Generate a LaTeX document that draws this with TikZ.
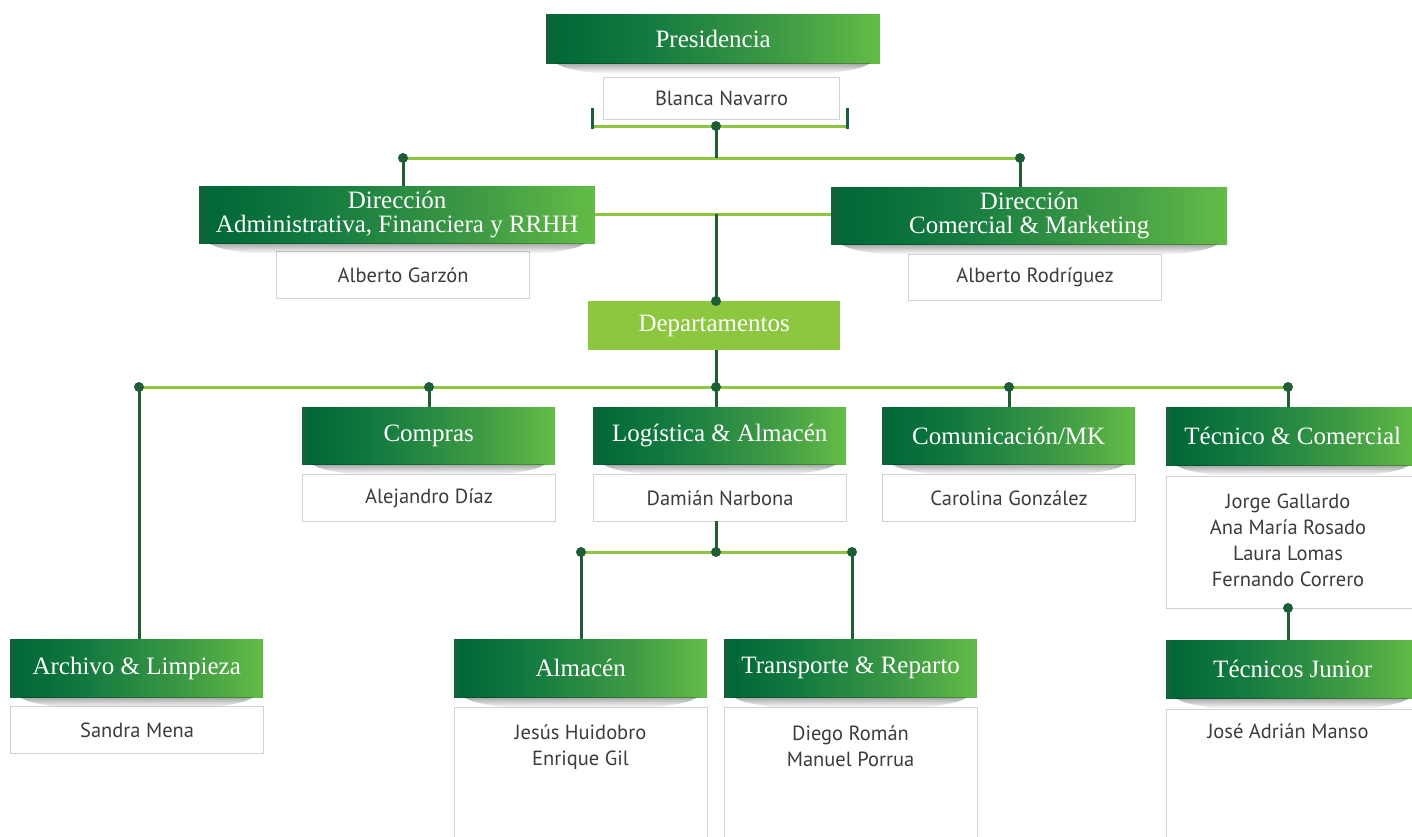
\documentclass[tikz,border=0pt]{standalone}
\usepackage{fontspec}
\setmainfont{Liberation Serif}
\newfontfamily\namefont{PT Sans}
\usetikzlibrary{fadings,calc}
\definecolor{gA}{HTML}{17613A}
\definecolor{gB}{HTML}{006837}
\definecolor{gC}{HTML}{137A40}
\definecolor{gD}{HTML}{3E9A44}
\definecolor{gE}{HTML}{64BC46}
\definecolor{ltc}{HTML}{8DC63F}
\definecolor{dkc}{HTML}{1D5E36}
\definecolor{nmc}{HTML}{3C3C3C}
\definecolor{bdc}{HTML}{D2D2D2}
\pgfdeclarehorizontalshading{gbar}{100bp}{color(0bp)=(gA); color(25bp)=(gA); color(26.5bp)=(gB); color(40bp)=(gC); color(60bp)=(gD); color(75bp)=(gE); color(100bp)=(gE)}
\tikzfading[name=shfade, top color=transparent!10, bottom color=transparent!100]
\newcommand\hshadow[1]{%
  \fill[black, opacity=.38, path fading=shfade]
    ($(#1.south west)+(10,0)$) -- ($(#1.south east)+(-10,0)$)
    .. controls ($(#1.south east)+(-20,5)$) .. ($(#1.south east)+(-50,10)$)
    -- ($(#1.south west)+(50,10)$)
    .. controls ($(#1.south west)+(20,5)$) .. cycle;}
\tikzset{
  hbase/.style={minimum width=253pt, minimum height=58pt, inner sep=0pt,
    text=white, font=\fontsize{25}{23.5}\selectfont, align=center, anchor=north west},
  hdr/.style={hbase, shade, shading=gbar},
  nbox/.style={draw=bdc, line width=1.2pt, fill=white, minimum width=253pt, minimum height=47pt,
    inner sep=0pt, anchor=north west, text=nmc, font=\namefont\fontsize{20.5}{26}\selectfont, align=center},
  ntext/.style={inner sep=0pt, text=nmc, font=\namefont\fontsize{20.5}{26}\selectfont, align=center},
  ltline/.style={draw=ltc, line width=3pt},
  dkline/.style={draw=dkc, line width=3pt},
  dot/.style={circle, fill=dkc, inner sep=0pt, minimum size=10pt}
}
\begin{document}
\begin{tikzpicture}[x=1pt, y=-1pt]
\path[use as bounding box] (0,0) rectangle (1412,836);
\clip (0,0) rectangle (1412,836);
\fill[white] (0,0) rectangle (1412,836);

% boxes
\node[hdr, minimum width=334pt, minimum height=49pt] (pres) at (546,14) {Presidencia};
\node[nbox, minimum width=236pt, minimum height=42pt] (blanca) at (603,77) {Blanca Navarro};

\node[hdr, minimum width=396pt, minimum height=57pt] (dirA) at (199,186) {Dirección\\Administrativa, Financiera y RRHH};
\node[nbox] (garzon) at (276,251) {Alberto Garzón};
\node[hdr, minimum width=396pt, minimum height=57pt] (dirC) at (831,187) {Dirección\\Comercial \& Marketing};
\node[nbox, minimum height=46pt] (rodri) at (908,254) {Alberto Rodríguez};

\node[hbase, fill=ltc, minimum width=252pt, minimum height=49pt] (dept) at (588,301) {Departamentos};

\node[hdr, minimum height=57pt] (compras) at (302,407) {Compras};
\node[nbox] (diaz) at (302,474) {Alejandro Díaz};
\node[hdr, minimum height=57pt] (logi) at (593,407) {Logística \& Almacén};
\node[nbox] (damian) at (593,474) {Damián Narbona};
\node[hdr, minimum height=57pt] (comu) at (882,407) {Comunicación/MK};
\node[nbox] (carolina) at (882,474) {Carolina González};
\node[hdr] (tec) at (1166,407) {Técnico \& Comercial};
\node[nbox, minimum height=132pt] (tecN) at (1166,476) {};
\node[ntext] (tecT) at (1288,540) {Jorge Gallardo\\Ana María Rosado\\Laura Lomas\\Fernando Correro};
\node[hdr] (tecJ) at (1166,640) {Técnicos Junior};
\node[nbox, minimum height=160pt] (joseB) at (1166,709) {};
\node[ntext] (jose) at (1288,731) {José Adrián Manso};

\node[hdr] (arch) at (10,639) {Archivo \& Limpieza};
\node[nbox] (sandra) at (10,706) {Sandra Mena};
\node[hdr] (alm) at (454,639) {Almacén};
\node[nbox, minimum height=160pt] (almB) at (454,707) {};
\node[ntext] (almN) at (580.5,747.5) {Jesús Huidobro\\Enrique Gil};
\node[hdr] (trans) at (724,639) {Transporte \& Reparto};
\node[nbox, minimum height=160pt] (transB) at (724,707) {};
\node[ntext] (transN) at (850.5,746) {Diego Román\\Manuel Porrua};

% shadows
\foreach \n in {pres,dirA,dirC,compras,logi,comu,tec,tecJ,arch,alm,trans} {\hshadow{\n}}

% connector coordinates
\coordinate (bL) at (592,126);
\coordinate (bR) at (847,126);
\coordinate (bLt) at (592,108);
\coordinate (bRt) at (847,108);
\coordinate (bLb) at (592,129);
\coordinate (bRb) at (847,129);
\coordinate (d0) at (716,126);
\coordinate (h1) at (716,158);
\coordinate (dA) at (403,158);
\coordinate (dC) at (1020,158);
\coordinate (m1) at (716,214);
\coordinate (dT) at (716,301);
\coordinate (dD) at (716,387);
\coordinate (e1) at (139,387);
\coordinate (e2) at (429,387);
\coordinate (e4) at (1009,387);
\coordinate (e5) at (1288,387);
\coordinate (dL) at (716,521);
\coordinate (s0) at (716,552);
\coordinate (s1) at (581,552);
\coordinate (s2) at (852,552);
\coordinate (t1) at (1288,608);

% lines
\draw[ltline] (bL) -- (bR);
\draw[dkline] (bLt) -- (bLb);
\draw[dkline] (bRt) -- (bRb);
\draw[ltline] (dA) -- (dC);
\draw[dkline] (d0) -- (h1);
\draw[dkline] (dA) -- (dA |- dirA.north);
\draw[dkline] (dC) -- (dC |- dirC.north);
\draw[ltline] (dirA.east |- m1) -- (dirC.west |- m1);
\draw[dkline] (m1) -- (dT);
\draw[dkline] (dT |- dept.south) -- (dD);
\draw[ltline] (e1) -- (e5);
\draw[dkline] (e1) -- (e1 |- arch.north);
\draw[dkline] (e2) -- (e2 |- compras.north);
\draw[dkline] (dD) -- (dD |- logi.north);
\draw[dkline] (e4) -- (e4 |- comu.north);
\draw[dkline] (e5) -- (e5 |- tec.north);
\draw[dkline] (dL) -- (s0);
\draw[ltline] (s1) -- (s2);
\draw[dkline] (s1) -- (s1 |- alm.north);
\draw[dkline] (s2) -- (s2 |- trans.north);
\draw[dkline] (t1) -- (t1 |- tecJ.north);

% dots
\foreach \c in {d0,dA,dC,dT,dD,e1,e2,e4,e5,s0,s1,s2,t1} {\node[dot] at (\c) {};}
\end{tikzpicture}
\end{document}
